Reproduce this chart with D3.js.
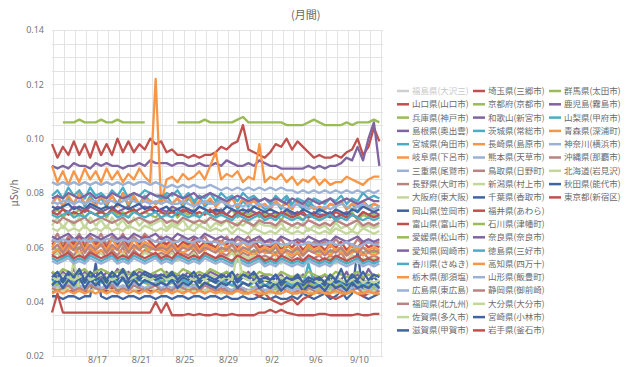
<!DOCTYPE html>
<meta charset="utf-8">
<style>
    body { margin: 0; background: #fff; }
    text { font-family: "Noto Sans CJK JP", "Noto Sans", sans-serif; }
    .grid line { stroke: #e3e3e3; stroke-width: 1; }
    .axis text { fill: #777; font-size: 9px; font-family: "Noto Sans", sans-serif; }
    .legend text { fill: #6a6a6a; font-size: 8.5px; }
</style>
<svg id="svg" width="640" height="367"></svg>
<script src="https://cdn.jsdelivr.net/npm/d3@7"></script>
<script>

    // readings every 12 hours, from 8/13 to 9/12 (unit: 0.001 μSv/h)
    const startTime = new Date(2011, 7, 12, 21);
    const stepHours = 12;

    const tickDates = ["2011-08-17", "2011-08-21", "2011-08-25", "2011-08-29", "2011-09-02", "2011-09-06", "2011-09-10"];
    const yTicks = [0.02, 0.04, 0.06, 0.08, 0.10, 0.12, 0.14];

    const fukushima = [];   // hidden in the legend
    const yamaguchi = [98,93,97,94,99,94,98,93,99,94, 98,94,100,95,99,95,98,96,100,98, 99,95,96,94,94,93,94,93,94,94, 95,97,96,98,99,105,96,95,94,93, 95,98,97,100,96,99,97,95,93,94, 93,93,94,93,95,96,100,94,97,104, 99];
    const hyogo = [47,46,48,47,46,47,48,46,47,48, 47,46,47,48,46,47,48,47,46,47, 48,46,47,46,48,47,46,47,46,48, 47,46,47,46,45,47,46,45,47,46, 46,45,47,46,45,46,45,47,46,45, 46,45,47,46,45,46,47,45,46,45, 46];
    const shimane = [90,89,90,89,91,90,90,89,91,90, 91,90,90,89,90,90,91,90,92,91, 91,91,90,91,91,90,90,91,90,90, 91,90,92,91,90,90,91,90,92,91, 90,90,89,89,89,89,89,90,89,90, 89,90,90,91,93,92,97,92,100,106, 90];
    const miyagi = [76,79,75,78,76,80,75,79,76,78, 75,79,76,80,75,78,76,79,77,76, 77,79,76,78,75,78,76,79,75,77, 76,78,75,79,74,77,75,78,76,74, 75,77,74,78,75,76,74,77,75,73, 74,76,75,77,74,76,73,77,75,76, 75];
    const gifu = [90,84,88,83,88,84,89,85,88,84, 89,85,88,84,87,85,89,86,84,122, 76,85,86,84,87,85,86,88,85,90, 95,85,87,86,88,84,86,85,98,84, 86,85,87,84,86,83,85,84,86,83, 85,83,84,84,86,85,84,83,85,86, 86];
    const mie = [84,83,84,83,84,83,84,83,84,83, 84,83,84,83,84,83,84,84,83,84, 83,82,83,82,83,82,83,82,82,83, 82,81,82,81,82,81,82,81,82,81, 82,81,82,81,81,80,81,80,81,80, 81,80,81,80,81,80,81,80,81,80, 81];
    const nagano = [62,65,61,64,62,65,61,64,62,65, 61,64,62,65,61,64,62,65,63,62, 64,61,63,62,64,61,63,62,64,61, 63,62,64,61,63,62,64,61,63,62, 62,61,63,60,62,61,63,60,62,61, 62,60,63,61,62,60,63,61,62,61, 62];
    const osaka = [68,71,67,70,68,71,67,71,68,70, 67,71,68,70,67,71,68,70,68,69, 70,67,69,68,70,67,69,68,70,67, 69,68,70,67,69,68,70,67,69,68, 68,67,69,66,68,67,69,66,68,67, 68,66,69,67,68,66,69,67,68,67, 68];
    const okayama = [42,42,41,42,42,41,42,42,54,42, 41,42,42,41,42,42,41,42,42,41, 42,42,41,42,42,41,42,42,41,42, 42,41,42,41,41,42,41,41,42,41, 41,42,41,41,42,41,43,42,41,42, 43,41,42,44,41,43,59,42,41,42, 43];
    const toyama = [44,44,45,44,44,45,44,44,45,44, 44,45,44,44,45,44,44,45,44,44, 45,44,44,45,44,44,45,44,44,45, 44,44,45,44,44,45,44,43,42,43, 41,40,39,40,41,39,41,42,43,44, 43,42,41,42,43,44,43,42,43,44, 44];
    const ehime = [60,59,61,60,59,60,61,59,60,61, 60,59,60,61,59,60,61,60,59,60, 61,59,60,59,61,60,59,60,59,61, 60,59,60,59,58,60,59,58,60,59, 59,58,60,59,58,59,58,60,59,58, 59,58,60,59,58,59,60,58,59,58, 59];
    const aichi = [51,48,51,49,52,48,51,49,51,48, 51,49,52,48,51,49,51,50,49,50, 49,51,48,50,49,51,48,50,49,51, 50,49,51,48,50,49,51,48,49,50, 48,49,50,47,49,48,50,47,49,48, 50,47,49,48,51,47,50,48,52,49, 50];
    const kagawa = [48,47,48,49,47,48,47,49,48,47, 48,49,47,48,47,49,48,47,48,49, 47,48,47,49,48,47,48,47,49,48, 47,48,47,46,48,47,46,47,48,46, 47,46,48,47,46,47,46,54,47,46, 47,46,48,47,46,47,48,46,47,46, 47];
    const tochigi = [76,79,75,79,76,80,76,78,75,79, 76,79,75,80,76,79,76,78,77,76, 78,77,76,78,76,79,75,77,76,78, 75,77,76,78,75,78,76,77,75,76, 74,77,75,76,74,77,75,76,74,75, 74,76,75,77,74,76,75,77,74,76, 75];
    const hiroshima = [46,45,46,47,45,46,45,47,46,45, 46,47,45,46,45,47,46,45,46,47, 45,46,45,47,46,45,46,45,47,46, 45,46,45,44,46,45,44,45,46,44, 45,44,46,45,44,45,44,46,45,44, 45,44,46,45,44,45,46,44,45,44, 45];
    const fukuoka = [57,59,56,59,57,60,56,59,57,59, 56,59,57,60,56,59,57,59,58,57, 58,57,59,56,58,57,59,56,58,57, 56,58,57,59,56,58,57,59,56,57, 56,58,55,57,56,58,55,57,56,57, 55,57,56,58,55,57,56,58,56,57, 56];
    const saga = [67,66,68,66,67,66,68,66,67,66, 68,66,67,66,68,67,66,68,67,66, 67,66,68,67,66,67,66,68,67,66, 67,66,67,65,67,66,65,67,66,65, 66,65,67,66,65,66,65,67,66,65, 66,65,67,66,65,66,65,67,66,65, 66];
    const shiga = [48,50,47,50,48,51,47,50,48,50, 47,50,48,51,47,50,48,50,49,48, 49,48,50,47,49,48,50,47,49,48, 47,49,48,50,47,49,48,50,47,48, 47,49,46,48,47,49,46,48,47,48, 46,49,47,48,46,49,47,48,47,49, 47];
    const saitama = [61,63,60,63,61,64,60,63,61,63, 60,63,61,64,60,63,61,64,62,60, 62,61,63,60,62,61,63,60,62,61, 60,62,61,63,60,62,61,63,60,61, 60,62,59,61,60,62,59,61,60,61, 59,61,60,62,59,61,60,62,60,61, 60];
    const kyoto = [72,74,71,73,72,74,71,73,72,74, 71,74,72,73,71,74,72,73,72,71, 73,72,74,71,73,72,74,71,73,72, 71,73,72,74,71,73,72,73,71,72, 71,72,70,73,71,72,70,72,71,70, 71,72,70,72,71,73,70,72,71,72, 71];
    const wakayama = [73,75,74,73,75,74,73,75,74,73, 74,75,73,74,75,73,74,75,74,73, 74,73,75,74,73,74,73,75,74,73, 73,74,72,74,73,72,74,73,72,73, 72,73,72,74,72,73,72,71,73,72, 72,73,71,72,73,72,71,73,72,73, 72];
    const ibaraki = [79,81,78,82,79,81,78,82,79,80, 78,81,79,82,78,80,79,81,80,79, 78,80,79,81,78,80,77,79,78,80, 77,80,78,79,77,80,78,79,77,78, 76,79,77,79,76,78,77,75,78,77, 76,78,77,79,76,78,77,80,78,79, 78];
    const nagasaki = [60,63,59,62,60,63,59,63,60,62, 59,63,60,62,59,63,60,62,61,59, 61,60,62,59,61,60,62,59,61,60, 59,62,60,61,59,62,60,61,59,60, 59,61,58,61,59,60,58,61,59,60, 58,61,59,60,58,61,59,60,59,60, 59];
    const kumamoto = [77,76,77,77,76,77,76,77,77,76, 77,77,76,77,78,77,76,77,76,77, 76,77,76,76,77,76,75,76,77,76, 76,77,76,75,76,75,76,75,76,75, 75,76,75,74,75,76,75,74,75,74, 75,74,75,76,75,74,75,76,75,74, 75];
    const tottori = [70,69,71,70,69,70,71,69,70,71, 70,69,70,71,69,70,71,70,69,70, 71,69,70,69,71,70,69,70,69,71, 70,69,70,69,68,70,69,68,70,69, 69,68,70,69,68,69,68,70,69,68, 69,68,70,69,68,69,70,68,69,68, 69];
    const niigata = [44,45,44,45,55,44,45,44,45,44, 45,44,45,44,45,44,45,44,45,44, 44,45,44,45,44,45,44,45,44,45, 44,43,44,43,44,43,44,43,44,43, 43,44,43,44,43,44,43,44,43,44, 43,44,43,44,43,44,43,44,43,44, 43];
    const chiba = [75,74,75,76,74,75,74,76,75,74, 75,74,76,75,74,75,76,74,75,73, 74,75,73,74,75,74,73,75,74,73, 74,73,75,74,73,74,73,75,74,73, 74,73,72,74,73,72,74,73,72,74, 73,72,74,73,72,74,73,75,74,73, 74];
    const fukui = [73,72,74,72,73,72,74,73,72,73, 72,74,73,72,73,74,72,73,74,75, 73,72,73,72,74,73,72,73,72,74, 72,73,72,71,73,72,71,72,73,71, 72,71,73,72,71,72,73,71,72,71, 72,71,73,72,71,72,71,73,72,71, 72];
    const ishikawa = [51,50,52,51,50,51,52,50,51,52, 51,50,51,52,50,51,52,51,50,51, 52,50,51,50,52,51,50,51,50,52, 51,50,51,50,49,51,50,49,51,50, 50,49,51,50,49,50,49,51,50,49, 50,49,51,50,49,50,51,49,50,49, 50];
    const nara = [64,63,64,65,63,64,63,65,64,63, 64,65,63,64,63,65,64,63,64,65, 63,64,63,65,64,63,64,63,65,64, 63,64,63,62,64,63,62,63,64,62, 63,62,64,63,62,63,62,64,63,62, 63,62,64,63,62,63,64,62,63,62, 63];
    const tokushima = [72,71,72,73,71,72,71,73,72,71, 72,73,71,72,71,73,72,71,72,73, 71,72,71,73,72,71,72,71,73,72, 71,72,71,70,72,71,70,71,72,70, 71,70,72,71,70,71,70,72,71,70, 71,72,70,71,70,72,71,70,71,70, 71];
    const kochi = [58,59,58,60,59,58,59,60,58,59, 58,60,59,58,59,60,59,58,60,59, 59,58,60,59,58,59,60,58,59,60, 59,58,59,58,57,59,58,57,59,58, 58,57,59,58,57,58,57,59,58,57, 58,57,59,58,57,58,59,57,58,57, 58];
    const yamagata = [63,62,63,62,63,62,63,62,63,62, 63,63,62,63,62,63,62,63,63,62, 62,63,62,62,63,62,62,63,62,62, 62,61,62,62,61,62,61,62,62,61, 61,62,61,61,62,61,61,62,61,61, 61,62,61,61,62,61,60,61,62,61, 61];
    const shizuoka = [45,44,45,46,44,45,44,46,45,44, 45,46,44,45,44,46,45,44,45,46, 44,45,44,46,45,44,45,44,46,45, 44,45,44,43,45,44,43,44,45,43, 44,43,45,44,43,44,43,45,44,43, 44,43,45,44,43,44,45,43,44,43, 44];
    const oita = [56,58,55,57,56,58,55,57,56,58, 55,57,56,58,55,57,56,58,57,56, 57,56,58,55,57,56,58,55,57,56, 55,57,56,58,55,57,56,57,55,56, 55,56,54,57,55,56,54,56,55,54, 55,56,54,56,55,57,54,56,55,56, 55];
    const miyazaki = [46,48,45,48,46,49,45,48,46,48, 45,48,46,49,45,48,46,48,47,46, 47,46,48,45,47,46,48,45,47,46, 45,47,46,48,45,47,46,48,45,46, 45,47,44,46,45,47,44,46,45,46, 44,47,45,46,44,47,45,46,45,47, 45];
    const iwate = [36,43,36,36,36,36,36,36,36,36, 36,36,36,36,36,36,36,36,36,40, 36,39.5,35,35,35,35.5,35,35.5,35,35, 35.5,35,35,35.5,35,35,35,35,36,36, 37,36,37,36,35.5,35,35,35,35,35.5, 35.5,35,35,35,35,35,35.5,35,35,35.5, 35.5];
    const gunma = [null,null,106,106,106,107,106,106,106,107, 106,106,107,106,106,106,106,106,null,null, null,null,null,106,106,106,106,106,107,106, 106,106,106,106,107,108,106,106,106,106, 106,106,106,105,105,105,105,106,107,106, 105,105,105,105,106,105,106,106,106,107, 106];
    const kagoshima = [78,79,78,80,79,78,79,80,78,79, 78,80,79,78,79,80,79,78,80,79, 79,78,80,79,78,79,80,78,79,80, 79,78,77,78,79,78,77,78,77,78, 77,78,77,76,78,77,76,78,77,76, 77,78,76,77,78,77,76,77,78,77, 77];
    const yamanashi = [56,55,56,57,55,56,55,57,56,55, 56,57,55,56,55,57,56,55,56,57, 55,56,55,57,56,55,56,55,57,56, 55,56,55,54,56,55,54,55,56,54, 55,54,56,55,54,55,54,56,55,54, 55,54,56,55,54,55,56,54,55,54, 55];
    const aomori = [43,44,43,44,43,44,43,44,43,44, 43,44,43,44,43,44,43,44,43,44, 43,44,43,44,43,44,43,44,43,44, 43,44,43,43,44,43,43,44,43,43, 44,43,43,44,43,43,44,43,43,44, 43,43,44,43,43,44,43,43,44,43, 43];
    const kanagawa = [55,54,55,56,54,55,54,56,55,54, 55,56,54,55,54,56,55,54,55,56, 54,55,54,56,55,54,55,54,56,55, 54,55,54,53,55,54,53,54,55,53, 54,53,55,54,53,54,53,55,54,53, 54,53,55,54,53,54,55,53,54,53, 54];
    const okinawa = [59,61,58,61,59,62,58,61,59,61, 58,61,59,62,58,61,59,61,60,59, 60,59,61,58,60,59,61,58,60,59, 58,60,59,61,58,60,59,61,58,59, 58,60,57,59,58,60,57,59,58,59, 57,59,58,60,57,59,58,60,58,59, 58];
    const hokkaido = [49,48,50,49,48,49,50,48,49,50, 49,48,49,50,48,49,50,49,48,49, 50,48,49,48,50,49,48,49,48,50, 49,48,49,48,58,49,48,47,49,48, 48,47,49,48,47,48,47,49,48,47, 48,47,49,48,47,48,49,47,48,47, 48];
    const akita = [49,51,48,51,49,52,48,51,49,51, 48,51,49,52,48,51,49,51,50,49, 50,49,51,48,50,49,51,48,50,49, 48,50,49,51,48,50,49,51,48,49, 48,50,47,49,48,50,47,49,48,49, 47,50,48,52,47,50,48,51,48,50, 49];
    const tokyo = [57,56,57,58,56,57,56,58,57,56, 57,58,56,57,56,58,57,56,57,58, 56,57,56,58,57,56,57,56,58,57, 56,57,56,55,57,56,55,56,57,55, 56,55,57,56,55,56,55,57,56,55, 56,55,57,56,55,56,57,55,56,55, 56];

    // legend labels, in the chart's series order
    const seriesNames = [
        "福島県(大沢三)", "山口県(山口市)", "兵庫県(神戸市)", "島根県(奥出雲)", "宮城県(角田市)", "岐阜県(下呂市)",
        "三重県(尾鷲市)", "長野県(大町市)", "大阪府(東大阪)", "岡山県(笠岡市)", "富山県(富山市)", "愛媛県(松山市)",
        "愛知県(岡崎市)", "香川県(さぬき)", "栃木県(那須塩)", "広島県(東広島)", "福岡県(北九州)", "佐賀県(多久市)",
        "滋賀県(甲賀市)", "埼玉県(三郷市)", "京都府(京都市)", "和歌山(新宮市)", "茨城県(常総市)", "長崎県(島原市)",
        "熊本県(天草市)", "鳥取県(日野町)", "新潟県(村上市)", "千葉県(香取市)", "福井県(あわら)", "石川県(津幡町)",
        "奈良県(奈良市)", "徳島県(三好市)", "高知県(四万十)", "山形県(飯豊町)", "静岡県(御前崎)", "大分県(大分市)",
        "宮崎県(小林市)", "岩手県(釜石市)", "群馬県(太田市)", "鹿児島(霧島市)", "山梨県(甲府市)", "青森県(深浦町)",
        "神奈川(横浜市)", "沖縄県(那覇市)", "北海道(岩見沢)", "秋田県(能代市)", "東京都(新宿区)"
    ];
    const seriesValues = [
        fukushima, yamaguchi, hyogo, shimane, miyagi, gifu, mie, nagano, osaka, okayama, toyama, ehime,
        aichi, kagawa, tochigi, hiroshima, fukuoka, saga, shiga, saitama, kyoto, wakayama, ibaraki, nagasaki,
        kumamoto, tottori, niigata, chiba, fukui, ishikawa, nara, tokushima, kochi, yamagata, shizuoka, oita,
        miyazaki, iwate, gunma, kagoshima, yamanashi, aomori, kanagawa, okinawa, hokkaido, akita, tokyo
    ];

    const palette = ["#c0504d", "#9bbb59", "#8064a2", "#4bacc6", "#f79646", "#9bb1d6", "#b98382", "#c4d79b", "#3f64a0"];
    const hiddenColor = "#cfcfcf";

    var svg = d3.select("svg");
    var margin = {left: 52, right: 257, top: 30, bottom: 11};
    var width = +svg.attr("width"), height = +svg.attr("height");

    var x = d3.scaleTime()
        .domain([startTime, new Date(2011, 8, 12, 5)])
        .range([margin.left, width - margin.right]);
    var y = d3.scaleLinear()
        .domain([0.02, 0.14])
        .range([height - margin.bottom, margin.top]);

    function colorOf(i) {
        return i === 0 ? hiddenColor : palette[(i - 1) % palette.length];
    }

    // grid
    var grid = svg.append("g").attr("class", "grid");
    grid.selectAll("line.h")
        .data(y.ticks(24))
        .enter().append("line")
        .attr("x1", x.range()[0]).attr("x2", x.range()[1])
        .attr("y1", d => Math.round(y(d)) + 0.5).attr("y2", d => Math.round(y(d)) + 0.5);
    grid.selectAll("line.v")
        .data(d3.timeDay.range(startTime, x.domain()[1]))
        .enter().append("line")
        .attr("x1", d => Math.round(x(d)) + 0.5).attr("x2", d => Math.round(x(d)) + 0.5)
        .attr("y1", y.range()[0]).attr("y2", y.range()[1]);

    // axes
    svg.append("g")
        .attr("class", "axis")
        .attr("transform", "translate(" + margin.left + ",0)")
        .call(d3.axisLeft(y).tickValues(yTicks).tickFormat(d3.format(".2f")).tickSize(0).tickPadding(8))
        .call(g => g.select(".domain").remove());

    svg.append("g")
        .attr("class", "axis")
        .attr("transform", "translate(0," + (height - margin.bottom) + ")")
        .call(d3.axisBottom(x).tickValues(tickDates.map(d => d3.timeParse("%Y-%m-%d")(d)))
            .tickFormat(d3.timeFormat("%-m/%-d")).tickSize(0).tickPadding(1))
        .call(g => g.select(".domain").remove());

    // series lines (first series is switched off)
    var line = d3.line()
        .defined(d => d != null)
        .x((d, i) => x(d3.timeHour.offset(startTime, i * stepHours)))
        .y(d => y(d / 1000));

    svg.append("g")
        .selectAll("path")
        .data(seriesValues.slice(1))
        .enter().append("path")
        .attr("fill", "none")
        .attr("stroke", (d, i) => colorOf(i + 1))
        .attr("stroke-width", 2.3)
        .attr("stroke-linejoin", "round")
        .attr("d", d => line(d));

    // titles
    svg.append("text")
        .attr("x", 291).attr("y", 19)
        .attr("fill", "#666").attr("font-size", 11)
        .text("(月間)");

    svg.append("text")
        .attr("transform", "translate(18," + y(0.08) + ") rotate(-90)")
        .attr("text-anchor", "middle")
        .attr("fill", "#666").attr("font-size", 10)
        .attr("font-family", "Noto Sans, sans-serif")
        .text("μSv/h");

    // legend, filled column by column
    var rows = 19;
    var legend = svg.append("g").attr("class", "legend")
        .selectAll("g")
        .data(seriesNames)
        .enter().append("g")
        .attr("transform", (d, i) => "translate(" + (397 + Math.floor(i / rows) * 76) + "," + (91 + (i % rows) * 13.3) + ")");

    legend.append("line")
        .attr("x1", 0).attr("x2", 12)
        .attr("stroke", (d, i) => colorOf(i))
        .attr("stroke-width", 2.5);

    legend.append("text")
        .attr("x", 15).attr("dy", "0.35em")
        .style("fill", (d, i) => i === 0 ? "#c8c8c8" : null)
        .text(d => d);

</script>
